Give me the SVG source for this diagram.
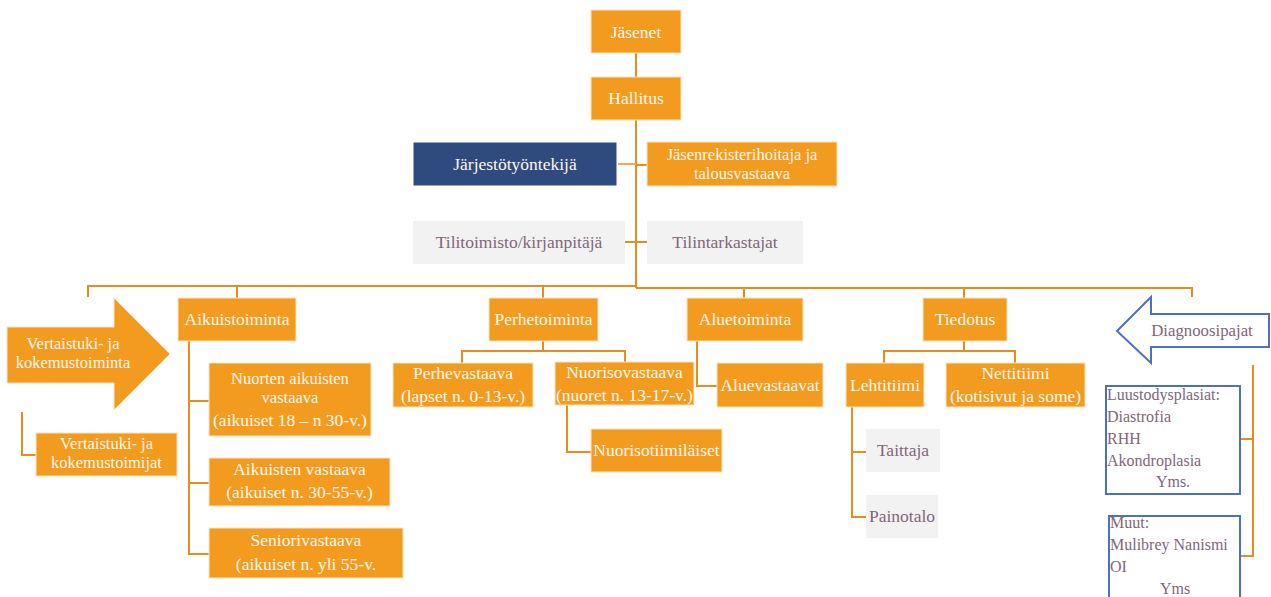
<svg xmlns="http://www.w3.org/2000/svg" width="1271" height="597" viewBox="0 0 1271 597">
<style>
text{font-family:"Liberation Serif","DejaVu Serif",serif;font-size:17.5px;text-anchor:middle}
.s{font-size:16.5px}
.o{fill:#F39B1F;stroke:#FBE3C3;stroke-width:1}
.b{fill:#2E4A7F;stroke:#FFFFFF;stroke-width:1}
.g{fill:#F2F2F2}
.w{fill:#FFFFFF;stroke:#4A72C0;stroke-width:2}
.tw{fill:#FFF8EF}
.tg{fill:#82667A}
.tl{fill:#82667A;font-size:16px;text-anchor:start}
.tc{fill:#82667A;font-size:16px}
.c{fill:none;stroke:#E48E22;stroke-width:2}
.cl{fill:none;stroke:#EFAA55;stroke-width:2}
</style>
<rect width="1271" height="597" fill="#FFFFFF"/>
<g id="connectors">
<path class="c" d="M636 53V77"/>
<path class="c" d="M636 120V288"/>
<path class="cl" d="M618 164H636"/>
<path class="c" d="M636 165H647"/>
<path class="c" d="M625 242H647"/>
<path class="c" d="M88 297V286H636"/>
<path class="c" d="M636 288H1192V297"/>
<path class="c" d="M237 286V298"/>
<path class="c" d="M543 286V298"/>
<path class="c" d="M744 288V298"/>
<path class="c" d="M964 288V298"/>
<path class="c" d="M189 341V554H209"/>
<path class="c" d="M189 401H209"/>
<path class="c" d="M189 483H209"/>
<path class="c" d="M22 412V455H36"/>
<path class="c" d="M543 341V351"/>
<path class="c" d="M462 363V351H625V363"/>
<path class="c" d="M567 405V452H591"/>
<path class="c" d="M697 341V386H717"/>
<path class="c" d="M964 341V351"/>
<path class="c" d="M884 363V351H1015V363"/>
<path class="c" d="M852 407V517H866"/>
<path class="c" d="M852 452H866"/>
<path class="c" d="M1253 365V556H1240"/>
<path class="c" d="M1253 439H1240"/>
</g>
<g id="jasenet"><rect class="o" x="591" y="10" width="90" height="43"/><text class="tw" x="636" y="37.5">Jäsenet</text></g>
<g id="hallitus"><rect class="o" x="591" y="77" width="90" height="43"/><text class="tw" x="636" y="104">Hallitus</text></g>
<g id="jarjestotyontekija"><rect class="b" x="413" y="142" width="204" height="44"/><text class="tw" x="515" y="169.5">Järjestötyöntekijä</text></g>
<g id="jasenrekisteri"><rect class="o" x="647" y="142" width="190" height="44"/><text class="tw s" x="742" y="160">Jäsenrekisterihoitaja ja</text><text class="tw s" x="742" y="178.5">talousvastaava</text></g>
<g id="tilitoimisto"><rect class="g" x="413" y="221" width="212" height="43"/><text class="tg" x="519" y="247.5">Tilitoimisto/kirjanpitäjä</text></g>
<g id="tilintarkastajat"><rect class="g" x="647" y="221" width="156" height="43"/><text class="tg" x="725" y="247.5">Tilintarkastajat</text></g>
<g id="vertaistuki-arrow"><path class="o" d="M7 327H114V298L170 354L114 410V383H7Z"/><text class="tw s" x="73" y="349">Vertaistuki- ja</text><text class="tw s" x="73" y="367.5">kokemustoiminta</text></g>
<g id="vertaistuki-toimijat"><rect class="o" x="36" y="433" width="141" height="43"/><text class="tw s" x="106.5" y="449">Vertaistuki- ja</text><text class="tw s" x="106.5" y="467.5">kokemustoimijat</text></g>
<g id="aikuistoiminta"><rect class="o" x="178" y="298" width="118" height="43"/><text class="tw" x="237" y="325">Aikuistoiminta</text></g>
<g id="nuorten-aikuisten"><rect class="o" x="209" y="363" width="162" height="73"/><text class="tw s" x="290" y="384">Nuorten aikuisten</text><text class="tw s" x="290" y="402.5">vastaava</text><text class="tw" x="290" y="426">(aikuiset 18 – n 30-v.)</text></g>
<g id="aikuisten-vastaava"><rect class="o" x="209" y="458" width="181" height="48"/><text class="tw" x="299.5" y="475">Aikuisten vastaava</text><text class="tw" x="299.5" y="498">(aikuiset n. 30-55-v.)</text></g>
<g id="seniorivastaava"><rect class="o" x="209" y="528" width="194" height="50"/><text class="tw" x="306" y="546">Seniorivastaava</text><text class="tw" x="306" y="570">(aikuiset n. yli 55-v.</text></g>
<g id="perhetoiminta"><rect class="o" x="489" y="298" width="109" height="43"/><text class="tw" x="543.5" y="325">Perhetoiminta</text></g>
<g id="perhevastaava"><rect class="o" x="393" y="363" width="140" height="44"/><text class="tw" x="463" y="379">Perhevastaava</text><text class="tw" x="463" y="402">(lapset n. 0-13-v.)</text></g>
<g id="nuorisovastaava"><rect class="o" x="555" y="362" width="139" height="43"/><text class="tw" x="624.5" y="377.5">Nuorisovastaava</text><text class="tw" x="624.5" y="401">(nuoret n. 13-17-v.)</text></g>
<g id="nuorisotiimilaiset"><rect class="o" x="591" y="429" width="131" height="43"/><text class="tw" x="656.5" y="456">Nuorisotiimiläiset</text></g>
<g id="aluetoiminta"><rect class="o" x="687" y="298" width="116" height="43"/><text class="tw" x="745" y="325">Aluetoiminta</text></g>
<g id="aluevastaavat"><rect class="o" x="717" y="363" width="106" height="44"/><text class="tw" x="770" y="390.5">Aluevastaavat</text></g>
<g id="tiedotus"><rect class="o" x="923" y="298" width="84" height="43"/><text class="tw" x="965" y="325">Tiedotus</text></g>
<g id="lehtitiimi"><rect class="o" x="846" y="363" width="78" height="44"/><text class="tw" x="885" y="390.5">Lehtitiimi</text></g>
<g id="nettitiimi"><rect class="o" x="946" y="363" width="139" height="44"/><text class="tw" x="1015.5" y="379">Nettitiimi</text><text class="tw" x="1015.5" y="402">(kotisivut ja some)</text></g>
<g id="taittaja"><rect class="g" x="866" y="429" width="74" height="43"/><text class="tg" x="903" y="456">Taittaja</text></g>
<g id="painotalo"><rect class="g" x="866" y="495" width="72" height="43"/><text class="tg" x="902" y="521.5">Painotalo</text></g>
<g id="diagnoosipajat"><path class="w" d="M1117 331L1151 297V314H1269V347H1151V363Z"/><text class="tg" x="1202" y="335.5" style="font-size:16.8px">Diagnoosipajat</text></g>
<g id="luustodysplasiat"><rect class="w" x="1106" y="386" width="134" height="108"/><text class="tl" x="1107" y="400">Luustodysplasiat:</text><text class="tl" x="1107" y="422">Diastrofia</text><text class="tl" x="1107" y="444">RHH</text><text class="tl" x="1107" y="466">Akondroplasia</text><text class="tc" x="1173" y="487">Yms.</text></g>
<g id="muut"><rect class="w" x="1109" y="516" width="131" height="90"/><text class="tl" x="1110" y="528">Muut:</text><text class="tl" x="1110" y="550">Mulibrey Nanismi</text><text class="tl" x="1110" y="572">OI</text><text class="tc" x="1175" y="594">Yms</text></g>
</svg>
